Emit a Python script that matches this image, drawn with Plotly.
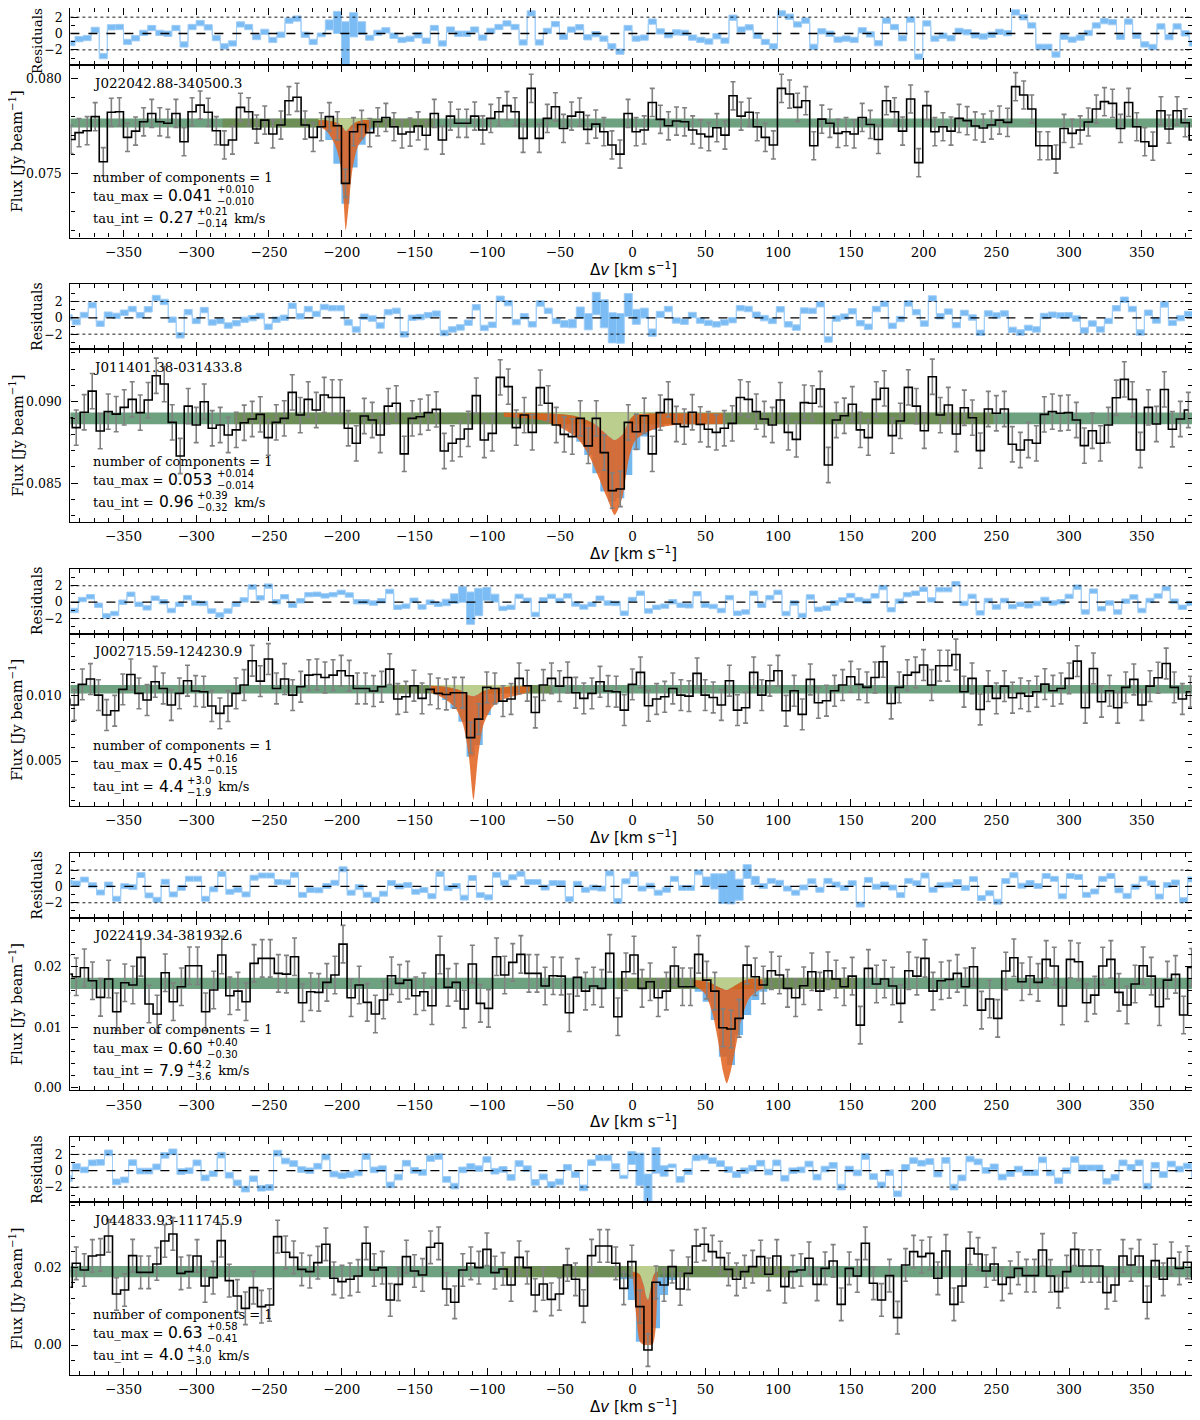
import numpy as np
import plotly.graph_objects as go

PAGE_W, PAGE_H = 1200, 1420
OFF = 8                      # page body margin of the browser
W, H = PAGE_W - OFF, PAGE_H - OFF

# ---------------- data (flux values in mJy/beam) ----------------
names = ["J022042.88-340500.3", "J011401.38-031433.8", "J002715.59-124230.9",
         "J022419.34-381932.6", "J044833.93-111745.9"]

# channel grid (centre of first channel, channel width) in km/s
v_start = [-386.1, -388.0, -389.4, -388.0, -388.0]
v_step = [5.55, 5.50, 5.56, 5.556, 5.535]

flux_1 = [76.78, 77.14, 77.24, 77.98, 75.61, 78.21, 78.24, 76.89, 77.22, 77.71,
          78.15, 77.71, 77.63, 78.15, 76.66, 78.24, 78.59, 78.21, 77.24, 76.49,
          76.75, 78.47, 78.24, 77.33, 77.80, 77.07, 77.54, 78.82, 79.00, 77.54,
          76.89, 77.45, 77.98, 77.50, 74.47, 77.19, 77.57, 77.14, 77.71, 77.94,
          77.45, 77.07, 77.17, 77.49, 77.00, 78.15, 76.75, 78.01, 77.63, 77.63,
          78.01, 77.28, 77.89, 78.24, 78.56, 78.24, 76.84, 79.47, 76.84, 77.89,
          78.50, 77.36, 78.01, 78.22, 77.31, 77.59, 77.19, 76.49, 76.01, 78.15,
          77.19,
          77.28, 78.73, 77.84, 77.50, 77.75, 77.71, 77.28, 77.07, 76.93, 77.40,
          77.01, 79.08, 78.01, 78.21, 77.45, 76.89, 76.49, 79.47, 79.17, 78.47,
          78.82, 76.45, 77.85, 77.63, 77.10, 77.19, 77.07, 77.94, 77.57, 76.78,
          78.82, 78.24, 77.22, 78.91, 75.56, 78.56, 77.19, 77.45, 77.22, 77.89,
          77.77, 77.49, 77.38, 77.54, 77.80, 77.68, 79.56, 79.12, 78.38, 76.45,
          76.45, 75.75, 77.36, 77.10, 77.28, 77.70, 78.38, 78.77, 78.68, 77.36,
          78.73, 77.45, 76.66, 76.43, 78.29, 77.33, 78.29, 77.66, 76.75]

flux_2 = [89.02, 88.41, 89.35, 90.65, 88.20, 89.39, 89.24, 89.65, 90.14, 89.33,
          90.10, 91.59, 91.08, 88.73, 86.67, 89.73, 88.57, 90.00, 88.37, 88.57,
          87.96, 88.27, 88.71, 88.94, 89.22, 87.80, 88.73, 88.98, 90.57, 89.18,
          90.14, 89.49, 90.41, 90.26, 90.26, 88.37, 87.45, 89.12, 88.88, 87.96,
          89.73, 89.90, 86.80, 88.98, 89.08, 89.33, 89.53, 86.98, 87.45, 87.71,
          88.33, 90.37, 87.65, 88.06, 91.49, 90.92, 88.41, 89.18, 88.12, 90.86,
          89.90, 88.57, 88.00, 87.86, 88.98, 87.29, 88.98, 86.88, 84.55, 84.65,
          88.73,
          88.16, 89.14, 86.80, 89.33, 90.14, 88.63, 88.47, 89.35, 88.61, 88.31,
          88.12, 88.37, 88.67, 90.26, 90.14, 89.39, 88.94, 88.57, 90.10, 88.12,
          87.69, 89.94, 89.90, 90.78, 86.12, 88.88, 89.14, 89.84, 88.27, 87.80,
          90.14, 90.82, 87.92, 88.82, 90.88, 89.73, 88.22, 91.53, 89.18, 89.80,
          88.02, 89.63, 89.02, 87.00, 89.55, 89.29, 89.55, 87.39, 87.04, 87.65,
          87.45, 89.22, 89.39, 89.29, 89.33, 88.88, 87.31, 88.22, 87.45, 88.57,
          90.24, 91.37, 90.14, 87.04, 89.65, 88.63, 90.75, 88.31, 88.94, 89.49]

flux_3 = [9.75, 9.29, 10.87, 11.28, 10.05, 8.52, 8.85, 10.49, 11.63, 10.18,
          9.67, 11.07, 10.56, 9.29, 10.18, 11.15, 10.36, 10.31, 9.21, 8.65,
          9.21, 10.18, 10.82, 12.68, 11.12, 12.81, 10.56, 11.28, 10.05, 10.69,
          11.58, 11.63, 11.40, 11.58, 11.91, 11.53, 10.56, 10.56, 10.36, 10.69,
          12.04, 9.75, 9.92, 10.77, 9.80, 10.49, 10.18, 10.10, 10.23, 10.23,
          6.79, 8.21, 10.64, 10.56, 9.59, 9.75, 11.33, 10.77, 8.72, 10.82,
          11.33, 10.74, 11.40, 10.23, 9.80, 10.18, 11.07, 10.36, 10.31, 8.90,
          10.87,
          11.79, 9.23, 9.75, 9.92, 10.56, 10.05, 9.97, 11.71, 10.05, 9.87,
          9.29, 11.15, 8.90, 9.08, 11.79, 10.05, 11.15, 11.91, 8.85, 10.38,
          8.57, 11.25, 9.46, 9.62, 10.38, 10.82, 11.45, 10.87, 10.64, 11.40,
          12.60, 9.41, 10.64, 11.58, 11.79, 12.35, 10.82, 12.30, 12.30, 13.16,
          10.31, 11.33, 8.95, 10.74, 9.80, 10.74, 9.85, 10.18, 9.97, 10.31,
          10.89, 10.38, 10.56, 11.33, 12.65, 9.08, 12.09, 9.54, 10.38, 9.08,
          10.64, 11.25, 9.29, 10.74, 11.38, 12.47, 10.64, 9.75, 10.31]

flux_4 = [18.78, 18.34, 19.83, 17.68, 14.93, 17.96, 12.56, 17.35, 16.97, 21.54,
          13.83, 12.17, 19.00, 14.21, 16.69, 20.16, 20.16, 12.56, 16.14, 21.93,
          15.20, 15.97, 14.21, 20.55, 21.37, 21.37, 18.89, 18.78, 21.65, 14.05,
          15.86, 15.75, 17.41, 18.62, 23.74, 14.87, 16.97, 14.10, 12.17, 14.49,
          18.51, 17.24, 17.79, 15.20, 15.86, 13.55, 21.93, 16.58, 17.41, 13.00,
          20.44, 13.94, 13.11, 21.65, 18.62, 20.71, 22.04, 18.89, 18.89, 16.80,
          18.51, 18.45, 12.39, 18.23, 15.97, 16.80, 16.42, 22.20, 11.73, 19.17,
          21.93,
          16.42, 17.52, 14.87, 15.97, 20.11, 16.69, 16.69, 22.04, 17.79, 15.97,
          9.91, 9.69, 11.46, 20.27, 18.34, 16.97, 19.34, 18.62, 16.42, 14.87,
          16.86, 19.17, 15.97, 19.34, 17.96, 16.69, 18.45, 10.35, 19.72, 17.13,
          17.96, 16.80, 13.94, 19.34, 18.45, 21.37, 15.97, 17.68, 17.90, 18.89,
          16.69, 20.00, 12.83, 14.65, 11.46, 19.28, 21.48, 17.52, 18.51, 17.41,
          21.21, 20.11, 13.50, 21.21, 20.82, 14.05, 15.31, 20.11, 21.21, 15.75,
          13.66, 17.13, 20.16, 18.45, 13.38, 17.79, 18.73, 12.01, 19.89]

flux_5 = [14.85, 21.03, 19.31, 22.92, 23.18, 28.07, 13.13, 14.16, 23.00, 18.71,
          18.71, 20.86, 26.78, 28.58, 18.45, 18.88, 22.92, 15.19, 17.34, 26.87,
          16.57, 12.62, 9.44, 14.76, 9.87, 10.30, 27.90, 23.86, 22.57, 19.48,
          18.88, 21.20, 25.92, 17.17, 16.31, 16.91, 17.77, 26.18, 19.31, 19.91,
          11.59, 15.62, 22.75, 19.05, 18.03, 25.15, 26.18, 14.42, 10.99, 19.31,
          21.03, 19.91, 24.63, 18.63, 19.57, 15.45, 22.57, 19.91, 12.87, 15.71,
          11.76, 13.13, 20.60, 16.91, 10.04, 23.00, 25.49, 25.49, 21.03, 14.59,
          21.46,
          9.87, -1.29, 16.14, 15.45, 20.17, 14.42, 18.45, 25.49, 25.92, 24.03,
          22.49, 19.48, 16.91, 18.88, 20.17, 22.75, 18.20, 22.92, 15.02, 18.88,
          19.31, 22.32, 15.62, 19.74, 21.63, 10.47, 19.74, 17.77, 26.18, 15.88,
          11.59, 17.85, 7.04, 20.60, 24.03, 22.75, 23.60, 17.17, 24.21, 10.47,
          15.19, 24.89, 23.43, 19.05, 20.86, 15.62, 17.42, 19.74, 17.85, 17.85,
          24.46, 17.77, 13.73, 18.88, 24.63, 20.34, 20.34, 20.34, 13.48, 15.45,
          22.92, 20.60, 22.92, 10.99, 21.72, 16.91, 22.32, 19.74, 21.29, 16.91]

flux_all = [flux_1, flux_2, flux_3, flux_4, flux_5]

err_mjy = [0.74, 1.08, 1.18, 3.10, 4.20]          # 1-sigma channel noise
cont_mjy = [77.65, 88.98, 10.50, 17.24, 18.88]    # continuum level
cont_hw_mjy = [0.24, 0.36, 0.32, 0.94, 1.46]      # continuum band half-width
model_window = [(-282, -137), (-274, 248), (-165, -56), (-11, 154), (-89, 108)]

# model posterior envelope (orange band)
orange_v = [
    [-216, -210, -205, -201.5, -199, -197.2, -195.3, -192.7, -189, -185, -180],
    [-88.6, -63, -50.5, -37.8, -30.2, -25, -17.5, -12.4, -7.3, -2.5, 1.2, 6.3, 16.5, 29, 42, 62],
    [-139.4, -129.2, -121.6, -116.5, -112.7, -109.4, -106.4, -102.6, -96.3, -88.6, -78.4, -70.9],
    [41.9, 49.5, 54.6, 58.4, 62.2, 64.7, 67.3, 71.1, 74.9, 80, 85.1, 90.1],
    [-0.1, 2.5, 5.0, 7.6, 9.3, 10.6, 11.9, 13.9, 15.7, 17.2],
]
orange_lo = [
    [77.50, 77.19, 76.57, 75.70, 73.94, 72.01, 73.24, 75.17, 76.40, 76.84, 77.40],
    [89.08, 88.88, 88.47, 87.75, 86.73, 85.71, 84.08, 83.06, 84.08, 86.53, 87.55, 87.96, 88.37, 88.57, 88.61, 88.63],
    [10.31, 9.75, 9.03, 7.76, 5.46, 2.02, 5.20, 7.76, 9.16, 9.75, 10.05, 10.31],
    [16.97, 15.59, 12.56, 8.15, 2.64, 0.71, 2.64, 7.05, 11.46, 14.76, 15.86, 16.42],
    [18.45, 7.30, 0.86, 0.00, 0.00, 0.00, 0.00, 0.26, 3.86, 18.03],
]
orange_hi = [
    [77.80, 77.78, 77.71, 77.58, 77.40, 77.22, 77.35, 77.56, 77.72, 77.80, 77.80],
    [89.33, 89.29, 89.24, 89.08, 88.82, 88.57, 87.96, 87.65, 87.96, 88.82, 89.18, 89.24, 89.29, 89.29, 89.29, 89.29],
    [10.77, 10.69, 10.51, 10.31, 10.05, 9.97, 10.10, 10.36, 10.56, 10.66, 10.72, 10.77],
    [17.79, 17.63, 17.24, 16.69, 16.31, 16.14, 16.42, 16.97, 17.52, 17.96, 18.07, 17.79],
    [18.88, 18.71, 18.03, 15.45, 12.45, 11.59, 13.73, 17.42, 18.71, 18.88],
]

# channel-binned model range (blue), starting at channel index blue_first
blue_first = [31, 62, 47, 78, 69]
blue_lo = [
    [77.40, 76.75, 75.50, 73.40, 75.30, 76.50, 77.30],
    [88.37, 88.06, 87.55, 86.73, 85.61, 84.49, 83.88, 84.08, 85.51, 87.04, 87.86, 88.27, 88.47],
    [9.67, 9.03, 8.01, 5.33, 6.22, 8.52, 9.41],
    [15.86, 14.21, 11.18, 5.12, 3.74, 8.70, 12.01, 14.49, 15.86],
    [16.91, 11.59, 0.86, 0.43, 4.29, 12.87, 16.74],
]
blue_hi = [
    [77.75, 77.65, 77.50, 77.40, 77.50, 77.65, 77.75],
    [89.24, 89.18, 89.08, 88.88, 88.57, 88.20, 87.86, 88.00, 88.57, 89.02, 89.18, 89.24, 89.29],
    [10.61, 10.43, 10.26, 10.00, 10.18, 10.41, 10.56],
    [17.63, 17.41, 16.97, 16.42, 16.31, 16.69, 17.24, 17.63, 17.79],
    [18.63, 18.28, 17.42, 16.31, 17.42, 18.28, 18.63],
]

ncomp = ["1", "1", "1", "1", "1"]
tau_max_txt = [("0.041", "+0.010", "\u22120.010"), ("0.053", "+0.014", "\u22120.014"),
               ("0.45", "+0.16", "\u22120.15"), ("0.60", "+0.40", "\u22120.30"),
               ("0.63", "+0.58", "\u22120.41")]
tau_int_txt = [("0.27", "+0.21", "\u22120.14"), ("0.96", "+0.39", "\u22120.32"),
               ("4.4", "+3.0", "\u22121.9"), ("7.9", "+4.2", "\u22123.6"),
               ("4.0", "+4.0", "\u22123.0")]

# axis settings (flux axes in Jy/beam)
flux_range = [(0.07162, 0.0807), (0.08264, 0.09321), (0.001547, 0.01476),
              (-0.00045, 0.02807), (-0.00764, 0.03676)]
flux_dtick = [0.005, 0.005, 0.005, 0.01, 0.02]
flux_minor = [0.001, 0.001, 0.001, 0.002, 0.004]
flux_fmt = [".3f", ".3f", ".3f", ".2f", ".2f"]
x_range = (-386.5, 384.5)
res_range = (-3.85, 4.1)
res_ticks = [-2, 0, 2]

# ---------------- layout geometry (page pixels) ----------------
X_L, X_R = 70.4, 1192.0
PERIOD, RES_H, FLUX_H, TOP0 = 284.3, 65.0, 172.5, 65.0

TEAL = "rgba(60,130,85,0.75)"
OLIVE = "rgba(110,120,40,0.45)"
LIGHT = "rgb(188,206,142)"
ORANGE = "rgba(226,96,28,0.85)"
BLUE = "rgb(116,184,240)"
RBLUE = "rgb(122,188,243)"
RLINE = "rgb(160,205,246)"

SERIF = "DejaVu Serif"
SANS = "DejaVu Sans"


def py(p):
    return 1 - (p - OFF) / H


def px(p):
    return (p - OFF) / W


def axname(letter, n):
    return letter if n == 1 else f"{letter}{n}"


# approximate glyph advance widths (em/1000)
SERIF_W = {"t": 402, "a": 596, "u": 644, "_": 500, "m": 948, "x": 564, "i": 320,
           "n": 644, " ": 318, "=": 838}
SANS_W = {d: 636 for d in "0123456789"}
SANS_W.update({".": 318, "+": 838, "\u2212": 838})


def tw(s, table, size):
    return sum(table.get(c, 600) for c in s) / 1000.0 * size


def note(text, x, y, size, family=SERIF, xanchor="left", angle=0):
    return dict(text=text, x=px(x), y=py(y), xref="paper", yref="paper", showarrow=False,
                xanchor=xanchor, yanchor="middle", textangle=angle, borderpad=0,
                font=dict(family=family, size=size, color="black"))


fig = go.Figure()
layout = dict(width=W, height=H, margin=dict(l=0, r=0, t=0, b=0),
              paper_bgcolor="white", plot_bgcolor="white", showlegend=False,
              barmode="overlay", template="none",
              font=dict(family=SERIF, size=13, color="black"))
annotations = []
shapes = []

ax_common = dict(showline=True, linecolor="black", linewidth=1.2, mirror="ticks",
                 ticks="inside", ticklen=7, tickwidth=1.1, tickcolor="black",
                 showgrid=False, zeroline=False, automargin=False)
XFONT = dict(family=SERIF, size=13.5, color="black")
YFONT = dict(family=SERIF, size=12.5, color="black")

for i in range(5):
    a, b = 2 * i + 1, 2 * i + 2
    F_t = TOP0 + PERIOD * i
    F_b = F_t + FLUX_H
    R_t = F_t - RES_H
    n = len(flux_all[i])
    v = v_start[i] + v_step[i] * np.arange(n)
    f = np.array(flux_all[i]) / 1000.0
    err = err_mjy[i] / 1000.0
    c = cont_mjy[i] / 1000.0
    hw = cont_hw_mjy[i] / 1000.0

    # model range per channel (continuum band, replaced by binned model near line)
    mlo = np.full(n, c - hw)
    mhi = np.full(n, c + hw)
    k0 = blue_first[i]
    blo = np.array(blue_lo[i]) / 1000.0
    bhi = np.array(blue_hi[i]) / 1000.0
    mlo[k0:k0 + len(blo)] = blo
    mhi[k0:k0 + len(bhi)] = bhi
    r_top = (f - mlo) / err
    r_bot = (f - mhi) / err

    xa, ya = axname("x", a), axname("y", a)
    xb, yb = axname("x", b), axname("y", b)

    # residual panel vertical extent (clipped at the page top for the first panel)
    r_lo, r_hi = res_range
    res_top_px = R_t
    if R_t < OFF:
        r_hi = r_hi - (OFF - R_t) * (res_range[1] - res_range[0]) / RES_H
        res_top_px = OFF

    # ---- residual panel ----
    fig.add_trace(go.Bar(x=v, y=r_top - r_bot, base=r_bot, width=v_step[i],
                         marker=dict(color=RBLUE, line=dict(width=0)),
                         xaxis=xa, yaxis=ya, hoverinfo="skip"))
    for rr in (r_top, r_bot):
        fig.add_trace(go.Scatter(x=v, y=rr, mode="lines", line=dict(color=RLINE, width=1, shape="hvh"),
                                 xaxis=xa, yaxis=ya, hoverinfo="skip"))
    shapes.append(dict(type="line", xref=f"{xa} domain", yref=ya, x0=0, x1=1, y0=0, y1=0,
                       line=dict(color="black", width=1.3, dash="dash")))
    for yy in (2, -2):
        shapes.append(dict(type="line", xref=f"{xa} domain", yref=ya, x0=0, x1=1, y0=yy, y1=yy,
                           line=dict(color="black", width=0.9, dash="dot")))

    # ---- flux panel ----
    fig.add_trace(go.Bar(x=v[k0:k0 + len(blo)], y=bhi - blo, base=blo, width=v_step[i],
                         marker=dict(color=BLUE, line=dict(width=0)),
                         xaxis=xb, yaxis=yb, hoverinfo="skip"))
    ex = [v[0] - v_step[i] / 2, v[-1] + v_step[i] / 2]
    fig.add_trace(go.Scatter(x=ex, y=[c + hw, c + hw], mode="lines", line=dict(width=0),
                             xaxis=xb, yaxis=yb, hoverinfo="skip"))
    fig.add_trace(go.Scatter(x=ex, y=[c - hw, c - hw], mode="lines", line=dict(width=0),
                             fill="tonexty", fillcolor=TEAL, xaxis=xb, yaxis=yb, hoverinfo="skip"))
    w0, w1 = model_window[i]
    fig.add_trace(go.Scatter(x=[w0, w1], y=[c + hw, c + hw], mode="lines", line=dict(width=0),
                             xaxis=xb, yaxis=yb, hoverinfo="skip"))
    fig.add_trace(go.Scatter(x=[w0, w1], y=[c - hw, c - hw], mode="lines", line=dict(width=0),
                             fill="tonexty", fillcolor=OLIVE, xaxis=xb, yaxis=yb, hoverinfo="skip"))
    ov = np.array(orange_v[i])
    olo = np.array(orange_lo[i]) / 1000.0
    ohi = np.array(orange_hi[i]) / 1000.0
    top = np.full(len(ov), c + hw)
    fig.add_trace(go.Scatter(x=ov, y=top, mode="lines", line=dict(width=0),
                             xaxis=xb, yaxis=yb, hoverinfo="skip"))
    fig.add_trace(go.Scatter(x=ov, y=ohi, mode="lines", line=dict(width=0, shape="spline", smoothing=0.7),
                             fill="tonexty", fillcolor=LIGHT, xaxis=xb, yaxis=yb, hoverinfo="skip"))
    fig.add_trace(go.Scatter(x=ov, y=olo, mode="lines", line=dict(width=0, shape="spline", smoothing=0.7),
                             xaxis=xb, yaxis=yb, hoverinfo="skip"))
    fig.add_trace(go.Scatter(x=ov, y=ohi, mode="lines", line=dict(width=0, shape="spline", smoothing=0.7),
                             fill="tonexty", fillcolor=ORANGE, xaxis=xb, yaxis=yb, hoverinfo="skip"))
    fig.add_trace(go.Scatter(x=v, y=f, mode="markers", marker=dict(size=1, color="rgba(0,0,0,0)"),
                             error_y=dict(type="constant", value=err, color="rgb(128,128,128)",
                                          thickness=1.6, width=2.5),
                             xaxis=xb, yaxis=yb, hoverinfo="skip"))
    fig.add_trace(go.Scatter(x=v, y=f, mode="lines", line=dict(color="black", width=1.6, shape="hvh"),
                             xaxis=xb, yaxis=yb, hoverinfo="skip"))

    # ---- axes ----
    xdom = [px(X_L), px(X_R)]
    xminor = dict(ticks="inside", ticklen=4, tickwidth=1, tickcolor="black", dtick=10, tick0=0)
    layout[axname("xaxis", a)] = dict(ax_common, domain=xdom, anchor=ya, range=list(x_range),
                                      dtick=50, tick0=0, showticklabels=False, minor=xminor,
                                      tickfont=XFONT)
    layout[axname("xaxis", b)] = dict(ax_common, domain=xdom, anchor=yb, range=list(x_range),
                                      dtick=50, tick0=0, showticklabels=True, minor=xminor,
                                      ticklabelstandoff=2, tickfont=XFONT)
    layout[axname("yaxis", a)] = dict(ax_common, domain=[py(F_t), min(1.0, py(res_top_px))], anchor=xa,
                                      range=[r_lo, r_hi], tickmode="array", tickvals=res_ticks,
                                      ticklabelstandoff=4, tickfont=YFONT,
                                      minor=dict(ticks="inside", ticklen=4, tickwidth=1,
                                                 tickcolor="black", dtick=1, tick0=0))
    layout[axname("yaxis", b)] = dict(ax_common, domain=[py(F_b), py(F_t)], anchor=xb,
                                      range=list(flux_range[i]), dtick=flux_dtick[i], tick0=0,
                                      tickformat=flux_fmt[i], ticklabelstandoff=5, tickfont=YFONT,
                                      minor=dict(ticks="inside", ticklen=4, tickwidth=1,
                                                 tickcolor="black", dtick=flux_minor[i], tick0=0))

    # ---- texts ----
    if i == 0:
        annotations.append(note("Residuals", 37, 41, 13.5, xanchor="center", angle=-90))
    else:
        annotations.append(note("Residuals", 37, (R_t + F_t) / 2, 14, xanchor="center", angle=-90))
    annotations.append(note("Flux [Jy beam<sup>\u22121</sup>]", 16, (F_t + F_b) / 2, 14.5,
                            xanchor="center", angle=-90))
    annotations.append(note("\u0394<i>v</i> [km s<sup>\u22121</sup>]", 633, F_b + 31, 15,
                            family=SANS, xanchor="center"))
    annotations.append(note(names[i], 92, F_t + 17.5, 13.5))
    annotations.append(note(f"number of components = {ncomp[i]}", 92, F_t + 112, 13))
    for label, vals, yoff, unit in (("tau_max = ", tau_max_txt[i], 131, ""),
                                     ("tau_int = ", tau_int_txt[i], 153, " km/s")):
        x0 = 92
        annotations.append(note(label, x0, F_t + yoff, 13))
        x1 = x0 + tw(label, SERIF_W, 13) + 1
        annotations.append(note(vals[0], x1, F_t + yoff, 15.5, family=SANS))
        x2 = x1 + tw(vals[0], SANS_W, 15.5) + 4
        annotations.append(note(vals[1], x2, F_t + yoff - 6.5, 10, family=SANS))
        annotations.append(note(vals[2], x2, F_t + yoff + 5.5, 10, family=SANS))
        if unit:
            x3 = x2 + max(tw(vals[1], SANS_W, 10), tw(vals[2], SANS_W, 10)) + 2
            annotations.append(note(unit, x3, F_t + yoff, 13))

layout["annotations"] = annotations
layout["shapes"] = shapes
fig.update_layout(**layout)
fig.write_html("out.html")
